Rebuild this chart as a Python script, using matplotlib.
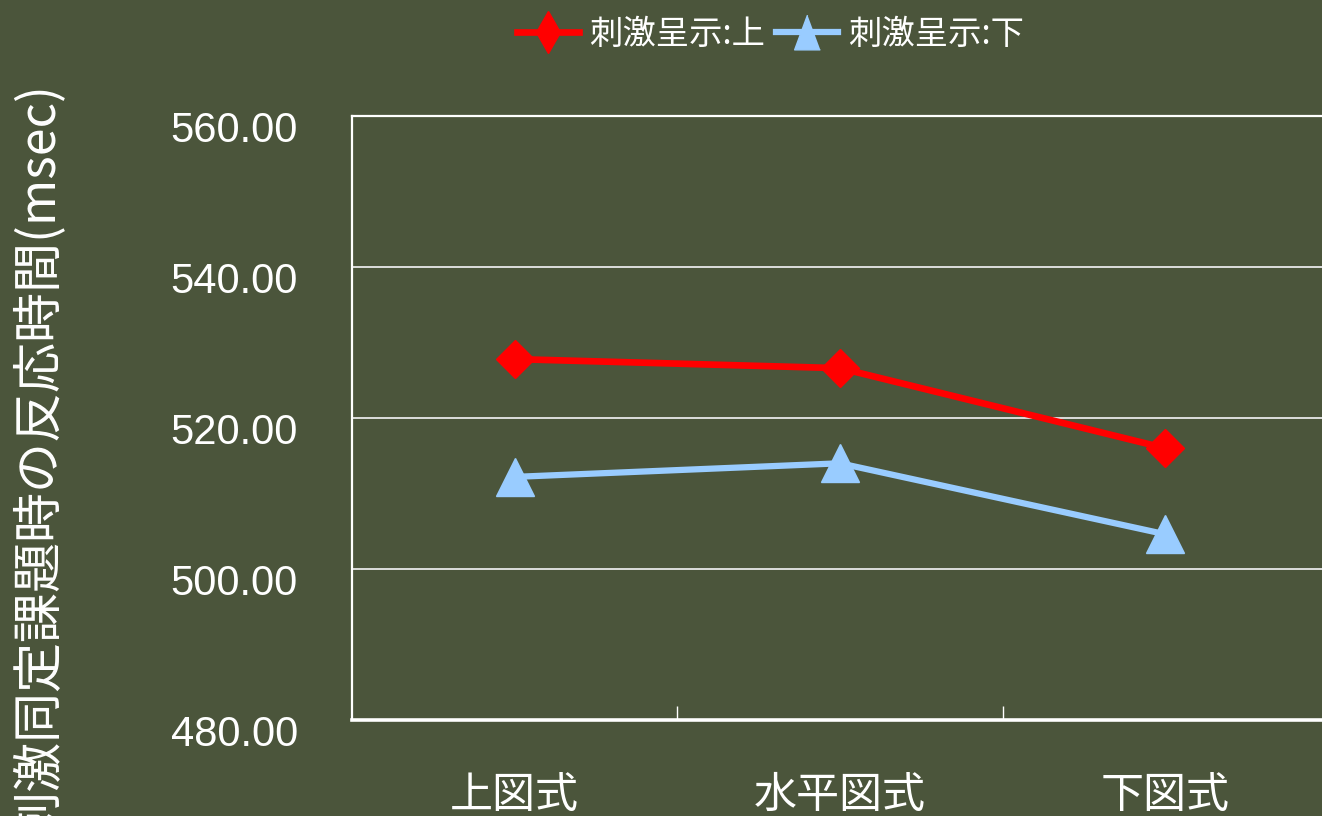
import matplotlib
matplotlib.use("Agg")
import matplotlib.pyplot as plt
import matplotlib.transforms as mtransforms
from matplotlib.lines import Line2D

# data
categories = ["上図式", "水平図式", "下図式"]
upper = [527.8, 526.6, 516.0]   # 刺激呈示:上
lower = [512.2, 514.0, 504.6]   # 刺激呈示:下
yticks = [480, 500, 520, 540, 560]
series_names = ["刺激呈示:上", "刺激呈示:下"]
ylabel = "刺激同定課題時の反応時間(msec)"

bg = "#4B553B"
red = "#FF0000"
blue = "#99CCFF"
jp = ["Noto Sans CJK JP", "DejaVu Sans"]

fig = plt.figure(figsize=(13.22, 8.16), dpi=100)
fig.patch.set_facecolor(bg)
ax = fig.add_axes([352 / 1322, 96 / 816, 976 / 1322, 604 / 816])
ax.set_facecolor(bg)

x = list(range(len(categories)))
ax.plot(x, upper, color=red, lw=4.8, marker="D", ms=19.5, mec=red, mew=1,
        solid_joinstyle="round", zorder=3)
ax.plot(x, lower, color=blue, lw=4.5, marker="^", ms=27, mec=blue, mew=1,
        solid_joinstyle="round", zorder=3)

ax.set_xlim(-0.5, 2.5)
ax.set_ylim(480, 560)
ax.set_yticks(yticks)
ax.set_yticklabels([f"{v:.2f}" for v in yticks], fontfamily="Liberation Sans",
                   fontsize=30, color="white")
ax.tick_params(axis="y", length=0, pad=39)
ax.grid(axis="y", color="#E8E8E8", lw=1.3)
ax.set_axisbelow(True)

# labels sit a bit under their gridlines in the reference
off = mtransforms.ScaledTranslation(0, -11 / 100, fig.dpi_scale_trans)
for lab in ax.get_yticklabels():
    lab.set_transform(lab.get_transform() + off)

ax.set_xticks(x)
ax.set_xticklabels(categories, fontfamily=jp, fontsize=31, color="white")
ax.tick_params(axis="x", which="major", length=0, pad=39)
ax.set_xticks([0.5, 1.5], minor=True)
ax.tick_params(axis="x", which="minor", direction="in", length=10,
               width=1, color="white")

for side in ["left", "top", "right"]:
    ax.spines[side].set_color("white")
    ax.spines[side].set_linewidth(1.6)
ax.spines["bottom"].set_color("white")
ax.spines["bottom"].set_linewidth(2.6)

# the reference crops this label at the bottom edge too
fig.text(40 / 1322, 1 - 462 / 816, ylabel, rotation=90, ha="center",
         va="center", color="white", fontsize=36, fontfamily=jp)

tri = [(0, 1), (-0.74, -1), (0.74, -1)]
handles = [
    Line2D([], [], color=red, lw=4.8, marker="d", ms=21, mec=red),
    Line2D([], [], color=blue, lw=4.5, marker=tri, ms=25, mec=blue),
]
leg = fig.legend(handles, series_names, loc="center left",
                 bbox_to_anchor=(517 / 1322, 1 - 34 / 816), ncol=2,
                 frameon=False, handlelength=1.85, handletextpad=0.3,
                 columnspacing=0.35, borderpad=0, borderaxespad=0,
                 prop={"family": jp, "size": 24})
for t in leg.get_texts():
    t.set_color("white")

fig.savefig("out.png", dpi=100, facecolor=bg)
